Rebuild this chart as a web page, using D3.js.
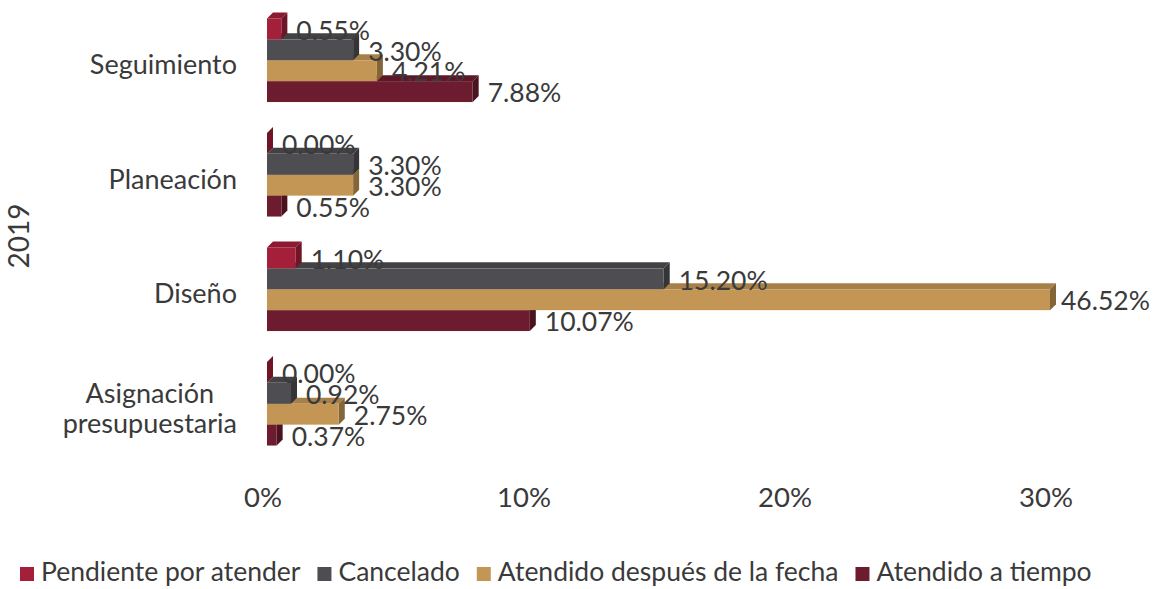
<!DOCTYPE html>
<html>
<head>
<meta charset="utf-8">
<script src="https://cdn.jsdelivr.net/npm/d3@7"></script>
<style>
  body { margin: 0; background: #fff; }
  text { font-family: Lato, "Open Sans", sans-serif; fill: #3a3a3a; }
</style>
</head>
<body>
<script>
// categories top to bottom
var categories = ["Seguimiento", "Planeación", "Diseño", "Asignación presupuestaria"];
var series = ["Pendiente por atender", "Cancelado", "Atendido después de la fecha", "Atendido a tiempo"];
var colors = ["#a31f3a", "#4e4d51", "#c39655", "#6d1c2f"];
// values in %, one array per series, in the category order above
var pendiente = [0.55, 0.00, 1.10, 0.00];
var cancelado = [3.30, 3.30, 15.20, 0.92];
var despues   = [4.21, 3.30, 46.52, 2.75];
var aTiempo   = [7.88, 0.55, 10.07, 0.37];
var values = [pendiente, cancelado, despues, aTiempo];
var xTicks = [0, 10, 20, 30];

var W = 1161, H = 589, depth = 6;

var svg = d3.select("body").append("svg")
    .attr("width", W)
    .attr("height", H);

var x = d3.scaleLinear().domain([0, 30]).range([267, 1050]);
var y = d3.scaleBand().domain(categories).range([3, 461])
    .paddingInner(0.27).paddingOuter(0.135);
var ys = d3.scaleBand().domain(series).range([0, y.bandwidth()]);

// flatten bars
var bars = [];
categories.forEach(function(c, ci) {
  series.forEach(function(s, si) {
    bars.push({cat: c, ser: s, si: si, v: values[si][ci]});
  });
});

function shade(col, k) { return d3.color(col).darker(k).toString(); }

// draw bottom series first so the bar above covers its top face
var drawOrder = bars.slice().sort(function(a, b) { return b.si - a.si; });
var g = svg.append("g");
drawOrder.forEach(function(d) {
  var x0 = x(0), x1 = x(Math.min(d.v, 30));
  var y0 = y(d.cat) + ys(d.ser), h = ys.bandwidth();
  var col = colors[d.si];
  // top face
  g.append("polygon")
    .attr("points", [[x0, y0], [x0 + depth, y0 - depth], [x1 + depth, y0 - depth], [x1, y0]].join(" "))
    .attr("fill", shade(col, 0.45));
  // side face
  g.append("polygon")
    .attr("points", [[x1, y0], [x1 + depth, y0 - depth], [x1 + depth, y0 + h - depth], [x1, y0 + h]].join(" "))
    .attr("fill", shade(col, 1.1));
  // front
  g.append("rect")
    .attr("x", x0).attr("y", y0)
    .attr("width", x1 - x0).attr("height", h)
    .attr("fill", col);
});

// value labels
svg.append("g").selectAll("text")
  .data(bars)
  .enter().append("text")
  .attr("x", function(d) { return x(Math.min(d.v, 30)) + depth + (d.v > 30 ? 5 : 9); })
  .attr("y", function(d) { return y(d.cat) + ys(d.ser) + ys.bandwidth() / 2 + 4; })
  .attr("dominant-baseline", "middle")
  .attr("font-size", "26.5px")
  .text(function(d) { return d.v.toFixed(2) + "%"; });

// category labels (two-line label centred line by line)
var catG = svg.append("g");
categories.forEach(function(d) {
  var lines = d === "Asignación presupuestaria" ? ["Asignación", "presupuestaria"] : [d];
  var cy = y(d) + y.bandwidth() / 2 + 7;
  var ts = lines.map(function(l, i) {
    return catG.append("text")
      .attr("x", 237)
      .attr("y", cy + (i - (lines.length - 1) / 2) * 30)
      .attr("text-anchor", "end")
      .attr("dominant-baseline", "middle")
      .attr("font-size", "27px")
      .text(l);
  });
  var widths = ts.map(function(t) { return t.node().getComputedTextLength(); });
  var maxW = d3.max(widths);
  ts.forEach(function(t, i) { t.attr("x", 237 - (maxW - widths[i]) / 2); });
});

// x tick labels
svg.append("g").selectAll("text")
  .data(xTicks)
  .enter().append("text")
  .attr("x", function(d) { return x(d) - 4; })
  .attr("y", 500)
  .attr("text-anchor", "middle")
  .attr("dominant-baseline", "middle")
  .attr("font-size", "27.5px")
  .text(function(d) { return d + "%"; });

// y title
svg.append("text")
  .attr("transform", "translate(22,236) rotate(-90)")
  .attr("text-anchor", "middle")
  .attr("dominant-baseline", "middle")
  .attr("font-size", "28px")
  .text("2019");

// legend
var lx = 20, ly = 574;
series.forEach(function(s, i) {
  svg.append("rect")
    .attr("x", lx).attr("y", ly - 7)
    .attr("width", 14).attr("height", 14)
    .attr("fill", colors[i]);
  var t = svg.append("text")
    .attr("x", lx + 21).attr("y", ly)
    .attr("dominant-baseline", "middle")
    .attr("font-size", "26.5px")
    .text(s);
  lx += 21 + t.node().getComputedTextLength() + 17;
});
</script>
</body>
</html>
